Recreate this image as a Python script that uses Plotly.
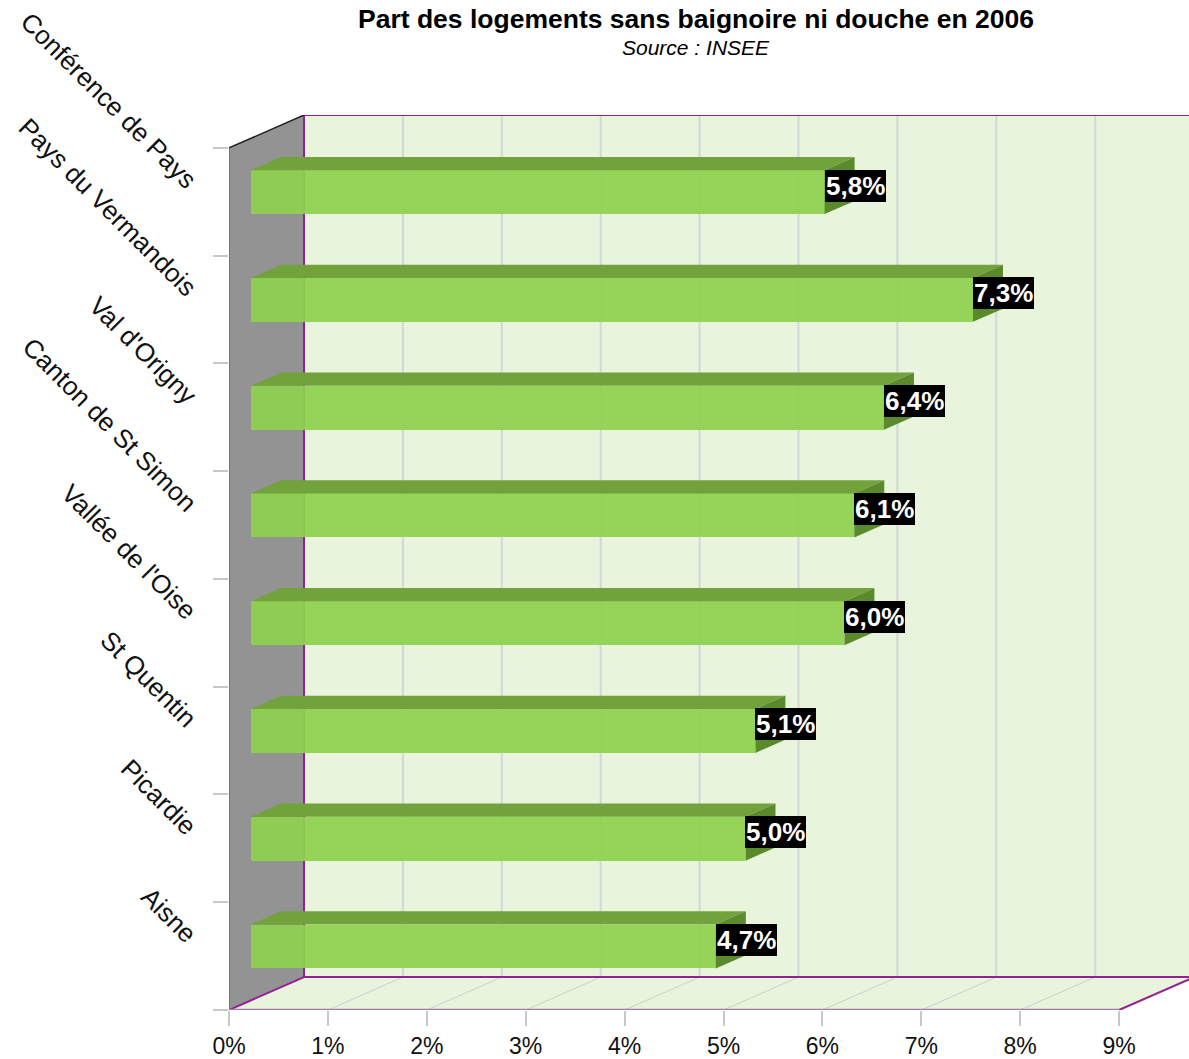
import plotly.graph_objects as go

# ---------------- data ----------------
categories = ["Conférence de Pays", "Pays du Vermandois", "Val d'Origny", "Canton de St Simon",
              "Vallée de l'Oise", "St Quentin", "Picardie", "Aisne"]
values = [5.8, 7.3, 6.4, 6.1, 6.0, 5.1, 5.0, 4.7]
value_labels = ["5,8%", "7,3%", "6,4%", "6,1%", "6,0%", "5,1%", "5,0%", "4,7%"]
x_tick_values = [0, 1, 2, 3, 4, 5, 6, 7, 8, 9]
x_tick_labels = ["0%", "1%", "2%", "3%", "4%", "5%", "6%", "7%", "8%", "9%"]
title_text = "Part des logements sans baignoire ni douche en 2006"
subtitle_text = "Source : INSEE"

# ---------------- geometry / style ----------------
W, H = 1189, 1059
ML, MR, MT, MB = 229, 0, 115, 47
PX_PER_PCT = 98.9
PX_PER_CAT = 108.0
X_MAX = (W - ML - MR) / PX_PER_PCT
N = len(categories)
Y_MIN = -0.5
Y_MAX = Y_MIN + (H - MT - MB) / PX_PER_CAT
DX = 75 / PX_PER_PCT          # depth offset in x units
DY = 33 / PX_PER_CAT          # depth offset in y units
D0, D1 = 0.293, 0.693         # bar depth start / end (fraction of depth)
BAR_H = 44 / PX_PER_CAT
XMAX_T = x_tick_values[-1]

FRONT = "rgba(143,209,79,0.93)"
TOP = "#71a23b"
SIDE = "#5a8a2b"
WALL = "#e8f4dc"
LEFTWALL = "#939393"
PURPLE = "#951f95"
FONT = "Liberation Sans, Arial, sans-serif"

pos = [N - 1 - i for i in range(N)]  # top category highest

fig = go.Figure()

# front faces
fig.add_trace(go.Bar(
    orientation="h",
    y=[p + D0 * DY for p in pos],
    x=values,
    base=D0 * DX,
    width=BAR_H,
    marker=dict(color=FRONT, line=dict(width=0)),
    hoverinfo="skip",
    showlegend=False,
))

# top faces and side faces
tx, ty, sx, sy = [], [], [], []
for p, v in zip(pos, values):
    xf0 = D0 * DX
    xf1 = D0 * DX + v
    xb0 = D1 * DX
    xb1 = D1 * DX + v
    ytf = p + BAR_H / 2 + D0 * DY
    ybf = p - BAR_H / 2 + D0 * DY
    ytb = p + BAR_H / 2 + D1 * DY
    ybb = p - BAR_H / 2 + D1 * DY
    tx += [xf0, xf1, xb1, xb0, xf0, None]
    ty += [ytf, ytf, ytb, ytb, ytf, None]
    sx += [xf1, xf1, xb1, xb1, xf1, None]
    sy += [ybf, ytf, ytb, ybb, ybf, None]

fig.add_trace(go.Scatter(x=tx, y=ty, mode="lines", fill="toself", fillcolor=TOP,
                         line=dict(width=0, color=TOP), hoverinfo="skip", showlegend=False))
fig.add_trace(go.Scatter(x=sx, y=sy, mode="lines", fill="toself", fillcolor=SIDE,
                         line=dict(width=0, color=SIDE), hoverinfo="skip", showlegend=False))

# dummy trace for boundary tick axis
fig.add_trace(go.Scatter(x=[None], y=[None], yaxis="y2", showlegend=False, hoverinfo="skip"))

shapes = []
yb = Y_MIN
yt = Y_MIN + N
# back wall
shapes.append(dict(type="rect", xref="x", yref="y", x0=DX, x1=XMAX_T + DX, y0=yb + DY, y1=yt + DY,
                   fillcolor=WALL, line=dict(width=0), layer="below"))
# back wall gridlines
for k in x_tick_values[1:]:
    shapes.append(dict(type="line", xref="x", yref="y", x0=k + DX, x1=k + DX, y0=yb + DY, y1=yt + DY,
                       line=dict(color="#d6d6d6", width=2), layer="below"))
# floor
shapes.append(dict(type="path", xref="x", yref="y",
                   path=f"M 0 {yb} L {XMAX_T} {yb} L {XMAX_T + DX} {yb + DY} L {DX} {yb + DY} Z",
                   fillcolor=WALL, line=dict(width=0), layer="below"))
for k in x_tick_values[1:-1]:
    shapes.append(dict(type="line", xref="x", yref="y", x0=k, x1=k + DX, y0=yb, y1=yb + DY,
                       line=dict(color="#cfcfcf", width=1), layer="below"))
# left wall
shapes.append(dict(type="path", xref="x", yref="y",
                   path=f"M 0 {yb} L {DX} {yb + DY} L {DX} {yt + DY} L 0 {yt} Z",
                   fillcolor=LEFTWALL, line=dict(width=0), layer="below"))
# edges
shapes.append(dict(type="line", xref="x", yref="y", x0=DX, x1=DX, y0=yb + DY, y1=yt + DY,
                   line=dict(color=PURPLE, width=2), layer="below"))
shapes.append(dict(type="line", xref="x", yref="y", x0=DX, x1=XMAX_T + DX, y0=yt + DY, y1=yt + DY,
                   line=dict(color=PURPLE, width=2), layer="below"))
shapes.append(dict(type="line", xref="x", yref="y", x0=DX, x1=XMAX_T + DX, y0=yb + DY, y1=yb + DY,
                   line=dict(color=PURPLE, width=2), layer="below"))
shapes.append(dict(type="line", xref="x", yref="y", x0=XMAX_T, x1=XMAX_T + DX, y0=yb, y1=yb + DY,
                   line=dict(color=PURPLE, width=2), layer="below"))
shapes.append(dict(type="line", xref="x", yref="y", x0=0, x1=DX, y0=yb, y1=yb + DY,
                   line=dict(color=PURPLE, width=2), layer="below"))
shapes.append(dict(type="line", xref="x", yref="y", x0=0, x1=XMAX_T, y0=yb, y1=yb,
                   line=dict(color="#a87aa8", width=2.5), layer="below"))
shapes.append(dict(type="line", xref="x", yref="y", x0=0, x1=0, y0=yb, y1=yt,
                   line=dict(color="#777777", width=2), layer="below"))
shapes.append(dict(type="line", xref="x", yref="y", x0=0, x1=DX, y0=yt, y1=yt + DY,
                   line=dict(color="#222222", width=1.5), layer="below"))

annotations = []
for p, v, lab in zip(pos, values, value_labels):
    annotations.append(dict(
        x=D0 * DX + v, y=p + D0 * DY + 0.06, xref="x", yref="y",
        text=f"<b>{lab}</b>", showarrow=False, xanchor="left", yanchor="middle",
        bgcolor="black", borderpad=1, borderwidth=0,
        font=dict(color="white", size=26, family=FONT),
    ))
annotations.append(dict(
    x=(696 - ML) / (W - ML - MR), y=((H - MB) - 19) / (H - MT - MB), xref="paper", yref="paper",
    text=f"<b>{title_text}</b>", showarrow=False, xanchor="center", yanchor="middle",
    font=dict(size=26.5, color="black", family=FONT),
))
annotations.append(dict(
    x=(696 - ML) / (W - ML - MR), y=((H - MB) - 47) / (H - MT - MB), xref="paper", yref="paper",
    text=f"<i>{subtitle_text}</i>", showarrow=False, xanchor="center", yanchor="middle",
    font=dict(size=21, color="black", family=FONT),
))

fig.update_layout(
    width=W, height=H,
    margin=dict(l=ML, r=MR, t=MT, b=MB, pad=0),
    paper_bgcolor="white", plot_bgcolor="rgba(0,0,0,0)",
    shapes=shapes, annotations=annotations,
    font=dict(family=FONT, color="#111111"),
    bargap=0,
    xaxis=dict(range=[0, X_MAX], tickvals=x_tick_values, ticktext=x_tick_labels,
               ticks="outside", ticklen=15, tickcolor="#c8c8c8", tickwidth=1.5,
               tickfont=dict(size=23, color="#111111"),
               showgrid=False, zeroline=False, showline=False, fixedrange=True),
    yaxis=dict(range=[Y_MIN, Y_MAX], tickvals=pos, ticktext=categories, tickangle=45,
               ticks="outside", ticklen=28, tickcolor="rgba(0,0,0,0)",
               ticklabelshift=-17,
               tickfont=dict(size=26, color="#111111"),
               showgrid=False, zeroline=False, showline=False, fixedrange=True),
    yaxis2=dict(range=[Y_MIN, Y_MAX], overlaying="y", side="left",
                tickvals=[Y_MIN + i for i in range(N + 1)], showticklabels=False,
                ticks="outside", ticklen=15, tickcolor="#c8c8c8", tickwidth=1.5,
                showgrid=False, zeroline=False, showline=False, fixedrange=True),
)

fig.write_html("out.html", config={"displayModeBar": False},
               post_script="document.body.style.margin='0';document.body.style.overflow='hidden';")
